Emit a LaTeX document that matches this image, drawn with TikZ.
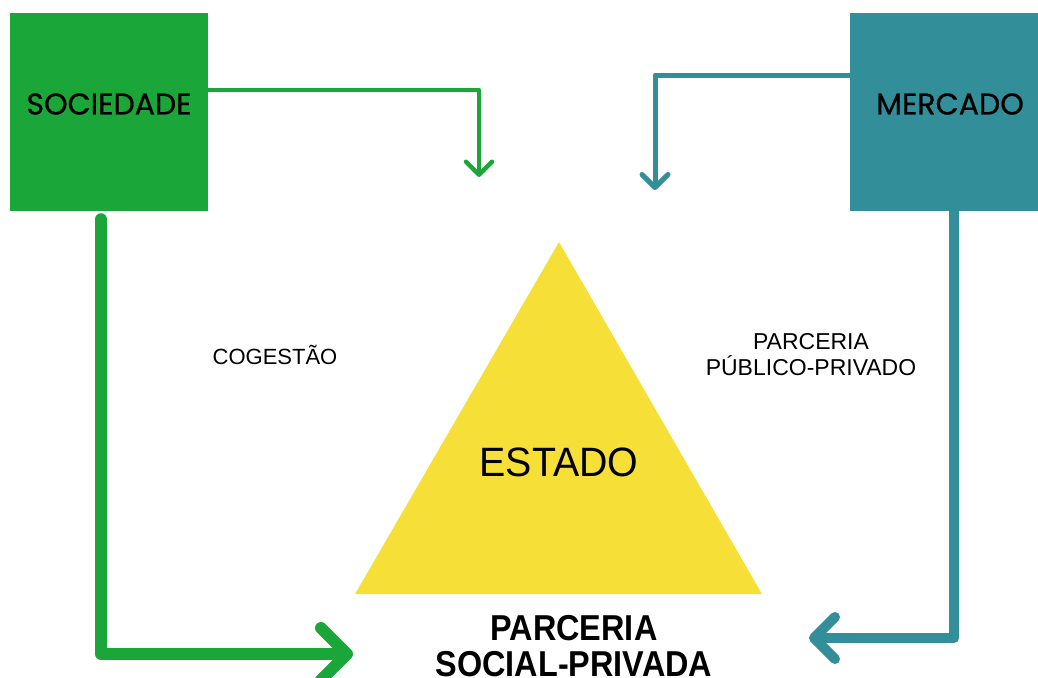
\documentclass[tikz,border=0pt]{standalone}
\usepackage{fontspec}
\setmainfont{Liberation Sans}
\newfontfamily\popfont{Poppins}[FakeBold=0.6]
\usetikzlibrary{arrows.meta}
\definecolor{socgreen}{HTML}{1AA638}
\definecolor{merteal}{HTML}{328E99}
\definecolor{estyellow}{HTML}{F6E037}
\tikzset{
  boxnode/.style={minimum width=198pt, minimum height=198pt, inner sep=0pt},
  boxtext/.style={font=\popfont\fontsize{30}{34}\selectfont, text=black, inner sep=0pt},
  chev/.style={-{Straight Barb[length=#1, width=2*#1, line cap=round, line join=round]}},
  conn/.style={line cap=round, line join=round},
  lbl/.style={font=\fontsize{23}{26}\selectfont, align=center, inner sep=0pt},
}
\begin{document}
\begin{tikzpicture}[x=1pt,y=-1pt]
\useasboundingbox (0,0) rectangle (1038,677);
% boxes
\node[boxnode, fill=socgreen] (soc) at (109,112) {};
\node[boxtext] (soct) at (109,104) {SOCIEDADE};
\node[boxnode, fill=merteal, minimum width=200pt, anchor=west] (mer) at (850,112) {};
\node[boxtext] (mert) at (950,104) {MERCADO};
% triangle
\fill[estyellow] (559,242) -- (762,594) -- (355,594) -- cycle;
\node[font=\fontsize{41}{48}\selectfont, inner sep=0pt, xscale=0.96] (estado) at (559,462) {ESTADO};
% labels
\node[lbl, font=\fontsize{22}{26}\selectfont] (coge) at (275,355) {COGESTÃO};
\node[lbl] (ppp) at (811,355) {PARCERIA\\PÚBLICO-PRIVADO};
\node[font=\bfseries\fontsize{36}{36}\selectfont, align=center, inner sep=0pt, xscale=0.9] (psp) at (574,646) {PARCERIA\\SOCIAL-PRIVADA};
% free ends
\coordinate (c1) at (479,177);
\coordinate (c2) at (655,190);
\coordinate (c3) at (353,654);
\coordinate (c4) at (809,638);
% connectors
\draw[socgreen, line width=4.5pt, conn, chev=13pt] ([yshift=22pt]soc.east) -| (c1);
\draw[merteal, line width=5pt, conn, chev=13pt] ([yshift=37pt]mer.west) -| (c2);
\draw[socgreen, line width=12pt, conn, chev=26pt] ([shift={(-8pt,-8pt)}]soc.south) |- (c3);
\draw[merteal, line width=10pt, conn, chev=21pt] ([shift={(4pt,0pt)}]mer.south) |- (c4);
\end{tikzpicture}
\end{document}
